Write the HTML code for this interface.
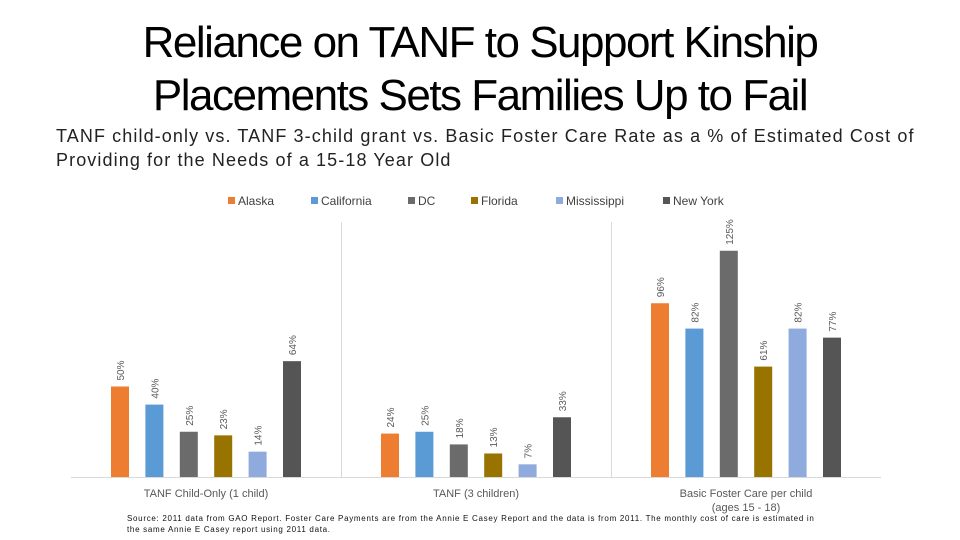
<!DOCTYPE html>
<html><head><meta charset="utf-8"><style>
body{margin:0;width:960px;height:540px;background:#fff;overflow:hidden;font-family:"Liberation Sans",sans-serif;position:relative}
.t{position:absolute;left:0;width:960px;text-align:center;font-size:44px;color:#000;letter-spacing:-1.5px;line-height:53px}
.sub{position:absolute;left:56px;top:124px;font-size:18px;color:#222;line-height:24px;letter-spacing:1.1px}
.src{position:absolute;left:127px;top:513px;font-size:8px;color:#111;line-height:11px;letter-spacing:0.7px}
</style></head><body>
<div class="t" style="top:16px">Reliance on TANF to Support Kinship<br>Placements Sets Families Up to Fail</div>
<div class="sub">TANF child-only vs. TANF 3-child grant vs. Basic Foster Care Rate as a % of Estimated Cost of<br>Providing for the Needs of a 15-18 Year Old</div>
<svg id="c" width="960" height="540" style="position:absolute;left:0;top:0"></svg>
<div class="src">Source: 2011 data from GAO Report. Foster Care Payments are from the Annie E Casey Report and the data is from 2011. The monthly cost of care is estimated in<br>the same Annie E Casey report using 2011 data.</div>
<script>
const categories=["TANF Child-Only (1 child)","TANF (3 children)","Basic Foster Care per child|(ages 15 - 18)"];
const seriesNames=["Alaska","California","DC","Florida","Mississippi","New York"];
const seriesColors=["#ED7D31","#5B9BD5","#6B6B6B","#997300","#8FAADC","#555555"];
const alaska=[50,24,96];
const california=[40,25,82];
const dc=[25,18,125];
const florida=[23,13,61];
const mississippi=[14,7,82];
const newYork=[64,33,77];
const values=[alaska,california,dc,florida,mississippi,newYork];
const legendX=[228,311,408,471,556,663];
const NS="http://www.w3.org/2000/svg",svg=document.getElementById('c');
const x0=71,catW=270,base=477,ppu=1.81;
const y=v=>base-v*ppu;
function mk(t,a){const e=document.createElementNS(NS,t);for(const k in a)e.setAttribute(k,a[k]);svg.appendChild(e);return e;}
let l=mk('line',{x1:x0,x2:x0+catW*3,y1:base+0.5,y2:base+0.5,stroke:'#d9d9d9'});


for(let i=1;i<3;i++){let s=mk('line',{x1:x0+catW*i+0.5,x2:x0+catW*i+0.5,y1:222,y2:base,stroke:'#d9d9d9'});

}
const bw=18,step=34.4;
categories.forEach((c,ci)=>{
 const cx=x0+catW*ci+catW/2;
 values.forEach((ser,si)=>{
  const bx=cx+(si-2.5)*step-bw/2, v=ser[ci];
  let r=mk('rect',{x:bx,y:y(v),width:bw,height:v*ppu,fill:seriesColors[si]});
  
  
  let tx=bx+bw/2+4,ty=y(v)-6;
  let t=mk('text',{x:tx,y:ty,transform:`rotate(-90 ${tx} ${ty})`,'font-size':10,fill:'#595959'});
  t.textContent=v+'%';
  
  
 });
 c.split('|').forEach((ln,k)=>{
  let t=mk('text',{x:cx,y:497+k*14,'text-anchor':'middle','font-size':11,fill:'#595959'});
  t.textContent=ln;
  
  
 });
});
seriesNames.forEach((n,i)=>{
 let r=mk('rect',{x:legendX[i],y:197,width:7,height:7,fill:seriesColors[i]});
 
 
 let t=mk('text',{x:legendX[i]+10,y:205,'font-size':12,fill:'#404040'});
 t.textContent=n;
 
 
});
</script>
</body></html>
